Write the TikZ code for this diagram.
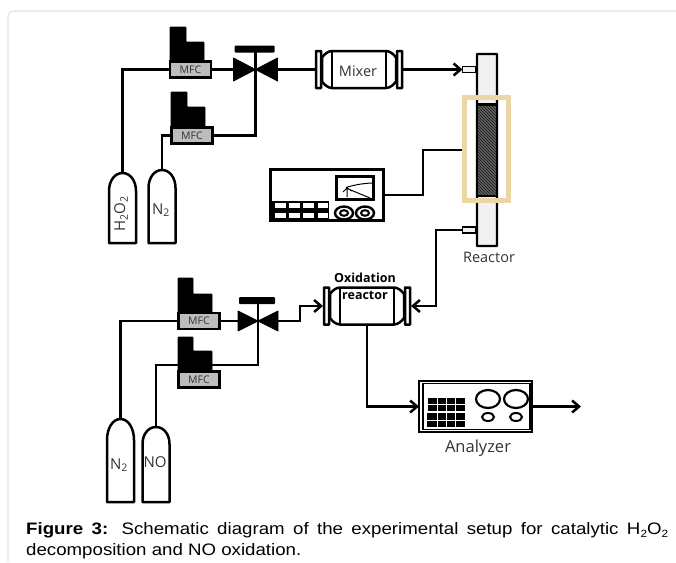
\documentclass[tikz,border=0pt]{standalone}
\usepackage{fontspec}
\setmainfont{Open Sans}
\newfontfamily\captionfont[FakeStretch=1.125]{Liberation Sans}
\newcommand{\capsub}[1]{\raisebox{-.35ex}{\fontsize{10.5}{10.5}\selectfont #1}}
\usetikzlibrary{
    arrows.meta,
    patterns,
}
\definecolor{framegray}{HTML}{E4E4E4}
\definecolor{mfcgray}{HTML}{BDBDBD}
\definecolor{tubegray}{HTML}{F1F1F1}
\definecolor{furnacetan}{HTML}{EBD6A6}
\definecolor{labelgray}{HTML}{333333}
\tikzset{
    pipe/.style={line width=2.5pt},
    flow/.style={pipe, -{Straight Barb[length=7pt,width=12pt]}},
    mfcbox/.style={draw, line width=2.4pt, fill=mfcgray, minimum width=41pt, minimum height=16pt, inner sep=0pt, outer sep=0pt, font=\fontsize{10.5}{12}\selectfont, text=labelgray},
    stack/.style={fill=black, draw=black, line width=.6pt, rounded corners=.6pt},
    label/.style={inner sep=0pt, text=labelgray},
    pics/bottle/.style 2 args={code={
        \coordinate (-top) at (0,0);
        \draw[line width=2.5pt, fill=white, line join=round] (-13.5,#1) -- (-13.5,#2) .. controls (-13.5,#2*.45) and (-8,0) .. (0,0) .. controls (8,0) and (13.5,#2*.45) .. (13.5,#2) -- (13.5,#1) -- cycle;
    }},
    pics/valve/.style 2 args={code={
        \coordinate (-c) at (0,0);
        \coordinate (-l) at (-#1,0);
        \coordinate (-r) at (#1,0);
        \fill[line join=round, draw, line width=.8pt] (-#1,-#2) -- (#1,#2) -- (#1,-#2) -- (-#1,#2) -- cycle;
        \draw[pipe] (0,0) -- (0,-20);
        \fill[rounded corners=1pt] (-#1+1,-24) rectangle (#1-3,-17);
    }},
    pics/vessel/.style={code={
        \coordinate (-l) at (-44,0);
        \coordinate (-r) at (44,0);
        \coordinate (-b) at (0,18.5);
        \draw[pipe, fill=white, line join=round] (-37,-12) .. controls (-35,-15) and (-31,-18.5) .. (-27,-18.5) -- (27,-18.5) .. controls (31,-18.5) and (35,-15) .. (37,-12) -- (37,12) .. controls (35,15) and (31,18.5) .. (27,18.5) -- (-27,18.5) .. controls (-31,18.5) and (-35,15) .. (-37,12) -- cycle;
        \draw[pipe] (-27,-18.5) -- (-27,18.5) (27,-18.5) -- (27,18.5);
        \draw[pipe, fill=white, rounded corners=.5pt] (-43,-18.5) rectangle (-38,18.5);
        \draw[pipe, fill=white, rounded corners=.5pt] (38,-18.5) rectangle (43,18.5);
    }},
}

\begin{document}
\begin{tikzpicture}[x=1pt, y=-1pt]
    \useasboundingbox (0,0) rectangle (676,562);
    \draw[framegray, line width=1.2pt, rounded corners=5pt] (676,11) -- (8,11) -- (8,562);

    % upper gas lines
    \pic (cylA) at (122.5,173) {bottle={70}{18}};
    \pic (cylB) at (162,170) {bottle={73}{18}};
    \node[label, rotate=90, font=\fontsize{15}{15}\selectfont] (labelA) at (121,214) {H$_{\mathrm{2}}$O$_{\mathrm{2}}$};
    \node[label, font=\fontsize{15}{15}\selectfont] (labelB) at (161,210) {N$_{\mathrm{2}}$};
    \fill[stack] (170,61) |- (186,27) |- (204,42) |- cycle;
    \fill[stack] (171,127) |- (187,92) |- (205,107) |- cycle;
    \node[mfcbox] (mfcA) at (190.5,69.5) {MFC};
    \node[mfcbox] (mfcB) at (192,135.5) {MFC};
    \pic (valveA) at (255.5,69.5) {valve={22}{11.5}};
    \draw[pipe] (mfcA.west) -| (cylA-top);
    \draw[pipe] (mfcB.west) -| (cylB-top);
    \draw[pipe] (mfcA.east) -- (valveA-l);
    \draw[pipe] (mfcB.east) -| (valveA-c);

    % mixer and reactor
    \pic (mixer) at (359,69.5) {vessel};
    \node[label, font=\fontsize{14.5}{15}\selectfont] (labelMixer) at (358,71) {Mixer};
    \draw[pipe] (valveA-r) -- (mixer-l);
    \draw[line width=2.2pt, fill=tubegray, rounded corners=.5pt] (477,54) rectangle (497,246);
    \node[draw, line width=1.8pt, fill=tubegray, minimum width=13pt, minimum height=6pt, inner sep=0pt, outer sep=0pt] (inlet) at (469,69.5) {};
    \node[draw, line width=1.8pt, fill=tubegray, minimum width=13pt, minimum height=6pt, inner sep=0pt, outer sep=0pt] (outlet) at (469,230) {};
    \draw[furnacetan, line width=5.5pt] (464.5,97.5) rectangle (508.5,200.5);
    \draw[line width=2.2pt, preaction={fill=black!62}, pattern=north west lines, pattern color=black!90] (477,104.5) rectangle (497,196);
    \node[label, font=\fontsize{14.5}{15}\selectfont] (labelReactor) at (489,257) {Reactor};
    \draw[flow] (mixer-r) -- (inlet.west);

    % temperature controller
    \node[draw, line width=2.2pt, minimum width=113pt, minimum height=51pt, inner sep=0pt, outer sep=0pt] (controller) at (327,195) {};
    \node[draw, line width=2.2pt, minimum width=37pt, minimum height=23pt, inner sep=0pt, outer sep=0pt] (meter) at (355,188) {};
    \draw[line width=1pt] (347,197) -- (347,188) (343,192) -- (347,188) -- (352,191) (346,187.5) .. controls (354,185) and (362,183.5) .. (372,183) (346,188) -- (370,198);
    \fill (271,201) rectangle (329,221);
    \foreach \x in {0,1,2,3} {
        \fill[white] (275+\x*14.2,203) rectangle +(10.5,5);
        \fill[white] (275+\x*14.2,212.5) rectangle +(10.5,5);
    }
    \foreach \x in {344,365} {
        \draw[line width=2.4pt] (\x,213) ellipse (9pt and 6.5pt);
        \draw[line width=2pt] (\x,213) ellipse (4pt and 2.8pt);
    }
    \coordinate (furnaceW) at (462,150);
    \draw[pipe] (controller.east) -- (423,195) |- (furnaceW);

    % lower gas lines
    \pic (cylC) at (120.5,419) {bottle={83}{21}};
    \pic (cylD) at (156,427) {bottle={75}{17}};
    \node[label, font=\fontsize{15}{15}\selectfont] (labelC) at (119,465) {N$_{\mathrm{2}}$};
    \node[label, font=\fontsize{15}{15}\selectfont] (labelD) at (155,462) {NO};
    \coordinate (mfcDw) at (177,365);
    \pic (valveB) at (258,321) {valve={20}{10}};
    \draw[pipe] (mfcDw) -| (cylD-top);
    \draw[pipe] (mfcDw) -- ++(81,0) -- (valveB-c);
    \fill[stack] (178,313) |- (193,278) |- (212,294) |- cycle;
    \fill[stack] (178,371) |- (193,337) |- (212,351) |- cycle;
    \node[mfcbox] (mfcC) at (199,321) {MFC};
    \node[mfcbox] (mfcD) at (199,379.5) {MFC};
    \draw[pipe] (mfcC.west) -| (cylC-top);
    \draw[pipe] (mfcC.east) -- (valveB-l);

    % oxidation reactor and analyzer
    \pic (oxreactor) at (367,306) {vessel};
    \node[label, font=\bfseries\fontsize{12.5}{13}\selectfont, text=black] (labelOxA) at (365,278) {Oxidation};
    \node[label, font=\bfseries\fontsize{12.5}{13}\selectfont, text=black] (labelOxB) at (365,295) {reactor};
    \draw[flow] (valveB-r) -- (300,321) |- (oxreactor-l);
    \draw[flow] (outlet.west) -- (436,230) |- (oxreactor-r);
    \node[draw, line width=2.4pt, minimum width=113pt, minimum height=51pt, inner sep=0pt, outer sep=0pt] (analyzer) at (475.5,406.5) {};
    \node[draw, line width=1.2pt, minimum width=107pt, minimum height=46pt, inner sep=0pt, outer sep=0pt] (analyzerIn) at (476.5,406.5) {};
    \draw[flow] (oxreactor-b) |- (analyzer.west);
    \draw[flow] (analyzer.east) -- (581,406.5);
    \foreach \x in {488,516} {
        \draw[line width=2.2pt] (\x,399) ellipse (12pt and 9pt);
        \draw[line width=2pt] (\x,417) ellipse (6pt and 4pt);
    }
    \fill (428,398) rectangle (465,411);
    \fill (427,413) rectangle (465,427);
    \draw[white, line width=.9pt] (428,404.5) -- (465,404.5) (427,420) -- (465,420);
    \foreach \x in {437,446,455} {
        \draw[white, line width=.5pt] (\x,398) -- (\x,411) (\x,413) -- (\x,427);
    }
    \node[label, font=\fontsize{16.5}{17}\selectfont] (labelAnalyzer) at (478,448) {Analyzer};

    % caption
    \node[anchor=north west, inner sep=0pt, text width=642pt, align=justify, font=\captionfont\fontsize{16.6}{21.5}\selectfont] (caption) at (26,522) {\textbf{Figure 3:} Schematic diagram of the experimental setup for catalytic H\capsub{2}O\capsub{2}\linebreak decomposition and NO oxidation.};
\end{tikzpicture}
\end{document}
